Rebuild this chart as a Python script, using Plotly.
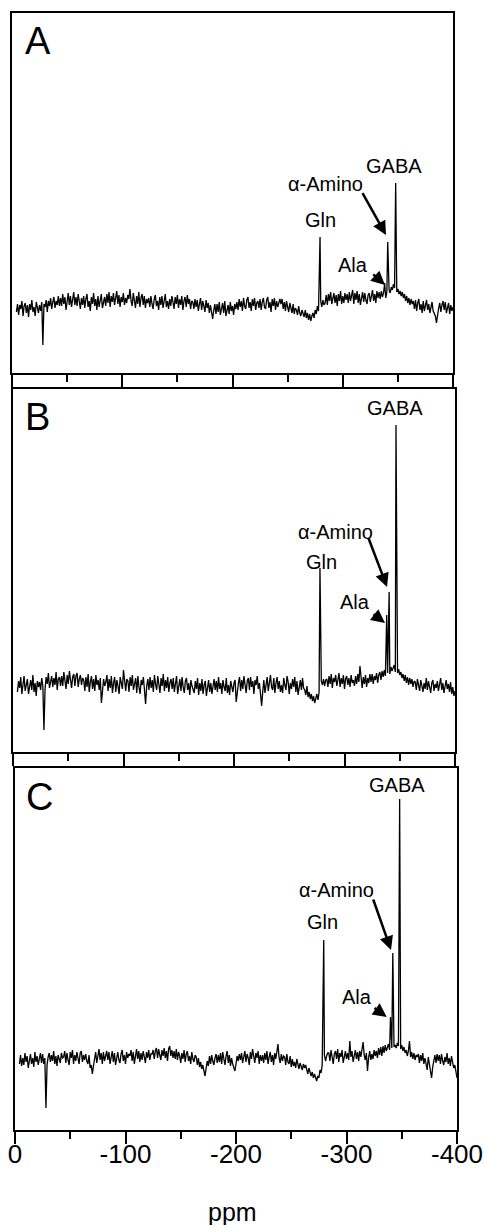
import plotly.graph_objects as go

# ---------------- data ----------------
# spectrum samples every 1 ppm from -4 ppm to -400 ppm (baseline + noise)
ppm_start = -4
ppm_step = -1

noise_A = [
    -5, 3, -8, 2, -2, 6, -9, 1, 4, -6, 2, -10, 3, -3, 7, -5, 0, -9, 5, -2,
    -6, 2, -4, 5, -8, 3, 0, 7, -5, 6, 1, 9, -2, 5, 10, -1, 6, 2, 11, 1,
    9, 1, 13, 3, 10, -3, 7, 14, 2, 11, 0, 8, 15, 2, 10, 1, 13, 6, -2, 9,
    2, 11, -1, 8, 13, 0, 6, -4, 10, 3, 14, 1, 8, -3, 11, 0, 6, 13, -1, 5,
    10, 1, 13, 4, 15, 0, 11, 5, 14, 2, 9, 16, 3, 12, 0, 10, 5, 14, 2, 9,
    4, 12, 8, 18, 6, 1, 14, 5, -1, 11, 3, 15, 0, 9, 13, 2, 11, -1, 8, 4,
    9, 0, 11, 3, -2, 8, 12, 1, 6, -3, 10, 2, 11, -1, 7, 13, 0, 6, -2, 8,
    1, 11, 5, -2, 10, 3, 12, -1, 8, 2, 11, -3, 6, 10, 0, 12, 3, 8, -2, 6,
    5, -2, 8, 0, 7, -4, 3, 9, -3, 6, 1, -5, 7, -1, 4, -6, 2, -5, -12, -3,
    3, -7, 3, -5, 5, -8, 0, 4, -6, 6, -9, -2, 2, -7, 5, -4, 1, -8, 3, -2,
    5, -3, 8, 0, 6, -4, 9, 1, -2, 7, 10, -1, 5, -4, 8, 1, 9, -3, 4, 6,
    -1, 8, -3, 5, 9, 0, -2, 7, 10, -1, 5, -5, 8, 1, 9, -3, 6, 0, 4, 8,
    3, 8, -2, 5, -4, 6, 0, -5, 4, -2, -6, 3, -7, -1, -3, -8, 1, -6, -9, -3,
    -6, -10, -3, -11, -6, -13, -7, -14, -9, -6, -11, -3, -7, 1, -4, 3, 6, 0, 7, 2,
    4, 12, 2, 13, 6, 15, 3, 10, 14, 4, 12, 1, 13, 6, 16, 3, 11, 4, 14, 7,
    13, 4, 15, 6, 11, 17, 3, 14, 7, 16, 4, 13, 2, 11, 15, 5, 14, 7, 3, 12,
    14, 5, 12, 17, 6, 13, 4, 16, 9, 15, 8, 16, 10, 14, 12, 9, 15, 11, 17, 14,
    20, 17, 23, 19, 19, 15, 18, 13, 16, 11, 15, 9, 13, 6, 11, 4, 9, 2, 8, 3,
    6, -2, 7, -4, 4, 8, -3, 3, -6, 6, -4, 2, 7, -3, 3, -6, 0, 5, -4, -7,
    -9, -16, -7, -1, 4, -5, 2, 6, -3, 5, -6, 1, 4, -7, 2, -4, 0,
]
noise_B = [
    -6, 5, -2, 9, -8, 3, 10, -5, 1, 7, -8, 0, 6, -4, 11, -6, 3, -10, 5, -1,
    4, -4, 8, 0, 12, -3, 9, 2, 13, -2, 6, 10, -1, 8, 1, 14, -4, 7, 9, 0,
    10, 0, 14, 3, -3, 11, 2, 15, 5, -2, 9, 12, 0, 10, 13, -1, 7, 11, 1, 8,
    6, -5, 9, -1, 12, -6, 4, 10, -3, 7, -5, 11, 1, 6, -4, 8, -17, -5, 7, 0,
    4, 11, -5, 7, -2, 10, -7, 3, 9, -6, 6, 0, -8, 9, 2, -3, 16, 4, -5, 7,
    5, -6, 9, 0, 11, -4, 4, 8, -7, 10, -1, -8, 6, 1, 9, -3, -18, 0, 7, -4,
    9, -2, 6, -6, 11, 2, -4, 10, 3, -7, 8, 0, 12, -5, 6, -2, 9, -6, 3, 7,
    -3, 8, -6, 4, 10, -8, 1, 7, -5, 9, -1, -7, 5, 8, -4, 3, -9, 6, 0, -5,
    -7, 5, -3, 8, -9, 3, -5, 7, -8, 1, 5, -10, -1, 6, -6, 3, -8, 0, 7, -4,
    5, -6, 9, -3, 3, -8, 6, -1, -5, 8, -7, 1, -9, 5, -2, -6, 3, 6, -16, -4,
    3, 9, -5, 6, -3, 10, 0, -7, 5, 8, -4, 9, -1, 5, -8, 6, 1, 10, -3, 3,
    -8, -20, -6, 6, -7, 2, 9, -5, 4, 11, -1, -4, 8, -7, 3, 9, -3, 5, -6, 1,
    -7, 8, 1, -4, 10, 4, -8, 3, -3, 7, -1, 9, -6, 5, -9, 2, 6, -4, 8, -2,
    -4, -9, 0, -11, -6, -13, -8, -15, -10, -17, -12, -8, -14, -6, -11, 5, 1, 7, 0, 6,
    7, -1, 10, 2, 12, -2, 8, 4, 11, 0, 6, 13, -1, 8, 2, 11, -3, 7, 10, 1,
    8, -1, 11, 3, 6, 0, 10, 2, 12, 4, 20, 6, -2, 9, 2, 11, -1, 8, 3, 12,
    4, 12, 2, 10, 6, 13, 3, 11, 14, 6, 15, 9, 16, 10, 17, 13, 18, 12, 19, 15,
    18, 21, 14, 19, 13, 17, 11, 14, 8, 12, 5, 11, 3, 9, 1, 8, 2, 7, -1, 5,
    4, -4, 7, 0, -5, 6, -1, -6, 3, -3, 8, -4, 5, -1, -7, 3, 6, -5, 2, -2,
    5, -5, 2, 8, -4, 3, -7, 0, 6, -3, 2, -6, 4, -8, -1, -10, -5,
]
noise_C = [
    -4, 5, -6, 2, -5, 7, -2, 4, -8, 1, 6, -4, 2, -7, 8, -2, 4, -5, 0, 7,
    -3, 6, -4, 2, 8, -5, 3, 7, -2, 5, -1, 9, -4, 4, -6, 5, 1, -3, 7, 2,
    3, 9, -3, 7, 0, -5, 8, 2, 10, -4, 5, -1, 8, 1, -4, 7, 9, -2, 5, 0,
    6, -1, -4, 5, -8, -5, -14, -6, 4, 8, -3, 5, 11, 0, 7, -4, 8, -1, 5, 9,
    0, 8, -4, 5, 9, -2, 7, -5, 3, 8, 0, -3, 6, 10, -1, 5, -4, 8, 2, 6,
    4, 10, -1, 8, -4, 6, 11, 1, 9, -2, 7, 0, 9, 3, -3, 8, 2, 10, 0, 6,
    6, 10, 1, 9, 12, 2, 11, 5, 0, 10, 4, 12, 2, 9, -1, 11, 14, 4, 10, 2,
    9, 1, 11, 0, 8, 4, -3, 7, 1, 10, -2, 6, 9, -1, 4, -4, 8, 1, -2, 5,
    3, -5, 2, -7, -2, -9, -5, -11, -16, -8, -1, -6, 4, -4, 5, -1, -5, 2, 6, -3,
    5, -2, 7, -4, 8, 1, -5, 4, 9, -3, 5, -6, 2, -4, -7, -11, -4, 4, -1, 6,
    0, 7, -3, 5, 9, -2, 6, 2, -5, 8, 1, 11, 4, -3, 7, 2, 9, -4, 5, -1,
    5, -3, 7, 0, 9, -4, 3, 8, -2, 5, -5, 7, 1, 9, 16, 2, -3, 6, -1, 4,
    3, -5, 6, -2, -4, 4, -7, 1, -6, -2, -8, 1, -5, -9, -3, -7, -10, -4, -8, -5,
    -10, -14, -8, -12, -16, -12, -18, -14, -19, -21, -16, -18, -10, -13, -5, 3, 5, -1, 4, 7,
    7, -1, 10, 3, -4, 6, 9, 1, 11, -2, 7, 3, 10, -3, 5, 9, 1, 7, 0, 19,
    3, 9, -2, 6, 10, 1, 8, -1, 9, 3, 11, 18, 5, 0, 7, -11, 2, 9, 0, 6,
    1, 10, 4, 9, 2, 12, 5, 13, 4, 14, 7, 15, 9, 14, 16, 10, 17, 12, 16, 13,
    15, 12, 17, 14, 14, 11, 15, 9, 13, 7, 10, 4, 9, 19, 3, 8, 1, 7, 0, 5,
    3, 6, -3, 5, -1, 7, -4, 2, -6, -10, 3, -5, -9, -18, -7, 2, 5, -3, 6, -1,
    5, -4, 6, -1, -5, 3, -2, 7, -4, 2, -6, 4, -2, -8, -5, -11, -18,
]

# peaks: reference artefact, Gln, Ala, alpha-Amino, GABA
peaks_A_ppm = [-28.0, -279.4, -338.0, -340.8, -348.0]
peaks_A_int = [-38, 70, 24, 65, 124]
peaks_B_ppm = [-28.0, -277.8, -338.2, -340.4, -346.6]
peaks_B_int = [-44, 118, 71, 94, 261]
peaks_C_ppm = [-28.0, -279.4, -339.8, -341.9, -348.1]
peaks_C_int = [-48, 120, 43, 107, 261]

panel_letters = ["A", "B", "C"]
peak_labels = ["GABA", "α-Amino", "Gln", "Ala"]
tick_vals = [0, -100, -200, -300, -400]
tick_text = ["0", "-100", "-200", "-300", "-400"]
minor_vals = [-50, -150, -250, -350]
x_title = "ppm"


def spectrum(noise, pk_x, pk_y):
    grid = [ppm_start + ppm_step * i for i in range(len(noise))]
    pts = [(g, v) for g, v in zip(grid, noise)
           if all(abs(g - p) >= 0.6 for p in pk_x)]
    pts += list(zip(pk_x, pk_y))
    pts.sort(key=lambda t: -t[0])
    return [p[0] for p in pts], [p[1] for p in pts]


# ---------------- layout ----------------
W, H = 485, 1225
FONT = "Liberation Sans, Arial, Helvetica, sans-serif"

panels = [
    dict(noise=noise_A, px=peaks_A_ppm, py=peaks_A_int,
         xdom=[12 / W, 453 / W], ydom=[1 - 373 / H, 1 - 13 / H], yr=[-66, 294],
         letter_xy=(37.5, 41.5),
         labels=[(-346.5, 141), (-283.9, 123.5), (-279.4, 87), (-309.3, 42)],
         arrows=[((-317.2, 115.3), (-339.2, 72)), ((-326.3, 34), (-338.3, 22))]),
    dict(noise=noise_B, px=peaks_B_ppm, py=peaks_B_int,
         xdom=[13 / W, 455 / W], ydom=[1 - 752 / H, 1 - 389 / H], yr=[-66, 297],
         letter_xy=(37.5, 417),
         labels=[(-345.7, 278), (-291.4, 154), (-279.6, 124), (-309.5, 84)],
         arrows=[((-321.3, 149), (-338.5, 99)), ((-324.9, 73), (-336.7, 63))]),
    dict(noise=noise_C, px=peaks_C_ppm, py=peaks_C_int,
         xdom=[15 / W, 457 / W], ydom=[1 - 1130 / H, 1 - 768 / H], yr=[-70, 292],
         letter_xy=(39, 797),
         labels=[(-345.4, 275), (-290.5, 170), (-278.7, 138), (-309.2, 63)],
         arrows=[((-323.7, 162), (-340.3, 110)), ((-324.0, 53), (-336.4, 43))]),
]

fig = go.Figure()
annotations = []
layout = dict(
    width=W, height=H,
    margin=dict(l=0, r=0, t=0, b=0, autoexpand=False),
    paper_bgcolor="white", plot_bgcolor="white",
    showlegend=False,
    font=dict(family=FONT, color="black"),
)

for i, p in enumerate(panels):
    sfx = "" if i == 0 else str(i + 1)
    xs, ys = spectrum(p["noise"], p["px"], p["py"])
    fig.add_trace(go.Scatter(
        x=xs, y=ys, mode="lines",
        line=dict(color="black", width=1.3),
        xaxis="x" + sfx, yaxis="y" + sfx, hoverinfo="skip"))

    layout["xaxis" + sfx] = dict(
        domain=p["xdom"], range=[0, -400], anchor="y" + sfx,
        automargin=False,
        showline=True, linecolor="black", linewidth=2, mirror=True,
        showgrid=False, zeroline=False,
        ticks="outside", ticklen=12, tickwidth=1.5, tickcolor="black",
        tickvals=tick_vals, ticktext=tick_text,
        showticklabels=(i == 2), ticklabelstandoff=-12,
        tickfont=dict(family=FONT, size=26, color="black"),
        minor=dict(tickvals=minor_vals, ticks="outside", ticklen=7,
                   tickwidth=1.5, tickcolor="black"),
    )
    layout["yaxis" + sfx] = dict(
        domain=p["ydom"], range=p["yr"], anchor="x" + sfx,
        automargin=False,
        showline=True, linecolor="black", linewidth=2, mirror=True,
        showgrid=False, zeroline=False, ticks="", showticklabels=False,
    )

    lx, ly = p["letter_xy"]
    annotations.append(dict(
        text=panel_letters[i], xref="paper", yref="paper",
        x=lx / W, y=1 - ly / H, xanchor="center", yanchor="middle",
        showarrow=False, font=dict(family=FONT, size=38, color="black")))

    for txt, (ax_, ay_) in zip(peak_labels, p["labels"]):
        annotations.append(dict(
            text=txt, xref="x" + sfx, yref="y" + sfx, x=ax_, y=ay_,
            xanchor="center", yanchor="middle", showarrow=False,
            font=dict(family=FONT, size=20, color="black")))

    for (tail, head) in p["arrows"]:
        annotations.append(dict(
            text="", xref="x" + sfx, yref="y" + sfx,
            axref="x" + sfx, ayref="y" + sfx,
            x=head[0], y=head[1], ax=tail[0], ay=tail[1],
            showarrow=True, arrowhead=2, arrowsize=1.1, arrowwidth=2.5,
            arrowcolor="black", standoff=0, startstandoff=0))

annotations.append(dict(
    text=x_title, xref="paper", yref="paper",
    x=232 / W, y=1 - 1212 / H, xanchor="center", yanchor="middle",
    showarrow=False, font=dict(family=FONT, size=25, color="black")))

layout["annotations"] = annotations
fig.update_layout(**layout)
fig.write_html("out.html")
